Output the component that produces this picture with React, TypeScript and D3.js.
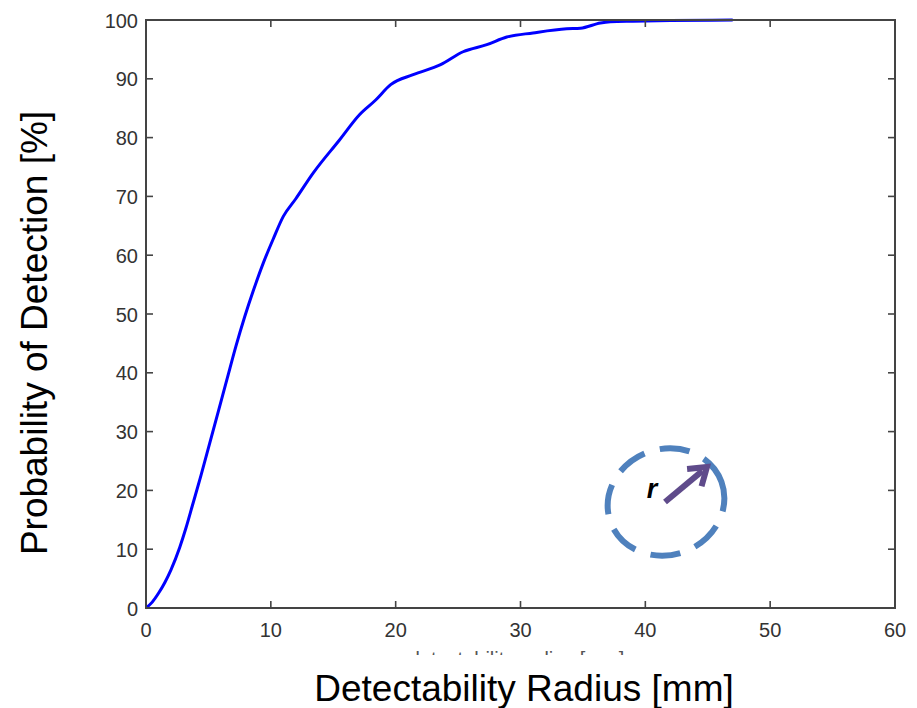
import React from "react";
import * as d3 from "d3";

const radiusMm = [0, 0.5, 1, 1.5, 2, 2.7, 3.2, 3.7, 4.4, 5.1, 5.8, 6.5, 7.2, 7.9, 8.6, 9.4, 10.2, 11, 12, 13.4, 15.5, 17.1, 18.4, 19.6, 21.4, 23.6, 25.4, 27.3, 28.9, 31, 33.7, 34.8, 36.4, 37.2, 39, 42, 47];
const detectionPct = [0, 1, 2.5, 4.3, 6.5, 10.3, 13.6, 17.3, 22.5, 28, 33.5, 39, 44.5, 49.5, 54, 58.7, 62.8, 66.6, 69.6, 74, 79.6, 83.9, 86.4, 89, 90.7, 92.4, 94.6, 95.8, 97.1, 97.8, 98.5, 98.6, 99.5, 99.7, 99.8, 99.9, 100];
const xTicks = [0, 10, 20, 30, 40, 50, 60];
const yTicks = [0, 10, 20, 30, 40, 50, 60, 70, 80, 90, 100];

const W = 917, H = 708;
const L = 146, R = 895, T = 20, B = 608;

export default function App() {
  const x = d3.scaleLinear().domain([0, 60]).range([L, R]);
  const y = d3.scaleLinear().domain([0, 100]).range([B, T]);
  const pts = radiusMm.map((r, i) => [r, detectionPct[i]] as [number, number]);
  const line = d3.line<[number, number]>().x(d => x(d[0])).y(d => y(d[1])).curve(d3.curveMonotoneX);
  const axisColor = "#444";
  const tickLen = 7;
  const font = "Liberation Sans, Arial, sans-serif";

  // annotation
  const cx = 666, cy = 502;
  const ax0 = 665, ay0 = 502, ax1 = 707, ay1 = 467;
  const ang = Math.atan2(ay1 - ay0, ax1 - ax0);
  const hl = 20;
  const h1 = [ax1 - hl * Math.cos(ang - 0.6), ay1 - hl * Math.sin(ang - 0.6)];
  const h2 = [ax1 - hl * Math.cos(ang + 0.6), ay1 - hl * Math.sin(ang + 0.6)];

  return (
    <svg width={W} height={H} style={{ position: "absolute", left: 0, top: 0, background: "#fff" }}>
      <defs>
        <clipPath id="faint">
          <rect x={0} y={645} width={W} height={10} />
        </clipPath>
      </defs>
      <rect x={0} y={0} width={W} height={H} fill="#fff" />
      {/* curve */}
      <path d={line(pts) || ""} fill="none" stroke="#0000ff" strokeWidth={3} strokeLinejoin="round" />
      {/* box */}
      <rect x={L} y={T} width={R - L} height={B - T} fill="none" stroke={axisColor} strokeWidth={2} />
      {xTicks.map(t => (
        <g key={"x" + t}>
          <line x1={x(t)} x2={x(t)} y1={B} y2={B - tickLen} stroke={axisColor} strokeWidth={1.6} />
          <line x1={x(t)} x2={x(t)} y1={T} y2={T + tickLen} stroke={axisColor} strokeWidth={1.6} />
          <text x={x(t)} y={B + 29} textAnchor="middle" fontFamily={font} fontSize={20} fill="#333">{t}</text>
        </g>
      ))}
      {yTicks.map(t => (
        <g key={"y" + t}>
          <line x1={L} x2={L + tickLen} y1={y(t)} y2={y(t)} stroke={axisColor} strokeWidth={1.6} />
          <line x1={R} x2={R - tickLen} y1={y(t)} y2={y(t)} stroke={axisColor} strokeWidth={1.6} />
          <text x={138} y={y(t) + 7.5} textAnchor="end" fontFamily={font} fontSize={20} fill="#333">{t}</text>
        </g>
      ))}
      {/* faint hidden original label */}
      <text x={(L + R) / 2 - 4} y={666} textAnchor="middle" fontFamily={font} fontSize={20} fill="#555" clipPath="url(#faint)">detectability radius [mm]</text>
      {/* axis labels */}
      <text x={524} y={701} textAnchor="middle" fontFamily={font} fontSize={37} fill="#000">Detectability Radius [mm]</text>
      <text transform={`translate(47,333) rotate(-90)`} textAnchor="middle" fontFamily={font} fontSize={37} fill="#000">Probability of Detection [%]</text>
      {/* annotation */}
      <ellipse cx={cx} cy={cy} rx={59} ry={53} fill="none" stroke="#4f81bd" strokeWidth={6} strokeDasharray="30 16" transform={`rotate(-20 ${cx} ${cy})`} />
      <line x1={ax0} y1={ay0} x2={ax1 - 6 * Math.cos(ang)} y2={ay1 - 6 * Math.sin(ang)} stroke="#5f4b8b" strokeWidth={6} />
      <polyline points={`${h1[0]},${h1[1]} ${ax1},${ay1} ${h2[0]},${h2[1]}`} fill="none" stroke="#5f4b8b" strokeWidth={6} strokeLinejoin="miter" />
      <text x={652} y={498} textAnchor="middle" fontFamily={font} fontSize={27} fontWeight="bold" fontStyle="italic" fill="#000">r</text>
    </svg>
  );
}
